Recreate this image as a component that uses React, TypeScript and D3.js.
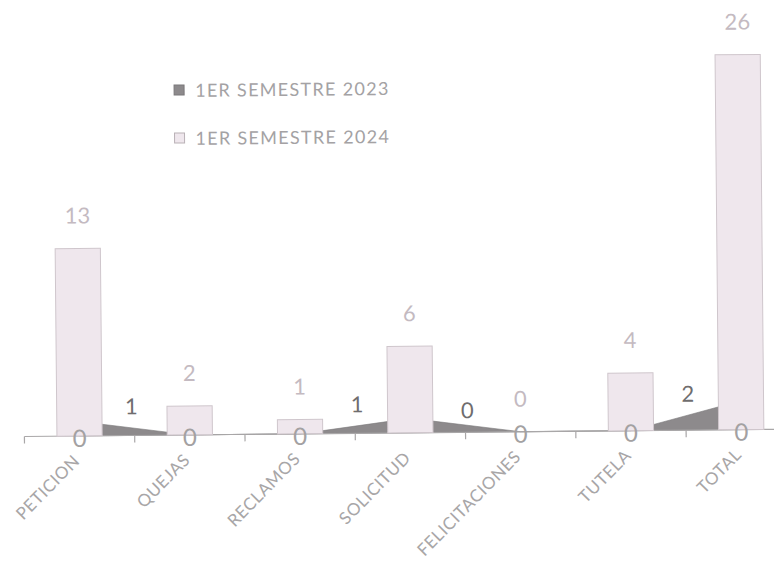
import { useEffect, useRef } from 'react'
import * as d3 from 'd3'

const categories = ['PETICION', 'QUEJAS', 'RECLAMOS', 'SOLICITUD', 'FELICITACIONES', 'TUTELA', 'TOTAL']
const values2023 = [1, 0, 0, 1, 0, 0, 2]
const values2024 = [13, 2, 1, 6, 0, 4, 26]
// where each 2023 label sits: -1 gap to the left, 1 gap to the right, 0 not shown in a gap
const labelGap2023 = [1, 0, 0, -1, -1, 0, -1]
const baseLabels = ['0', '0', '0', '', '0', '0', '0']
const seriesNames = ['1ER SEMESTRE 2023', '1ER SEMESTRE 2024']

export default function App() {
  const svgRef = useRef<SVGSVGElement>(null)
  const width = 774
  const height = 575

  useEffect(() => {
    if (!svgRef.current) return
    d3.select(svgRef.current).selectAll('*').remove()

    const svg = d3.select(svgRef.current)
      .attr('width', width)
      .attr('height', height)
      .style('font-family', 'Lato, "Open Sans", sans-serif')

    svg.append('rect').attr('width', width).attr('height', height).attr('fill', '#ffffff')

    // the scan is slightly tilted
    const g = svg.append('g').attr('transform', `rotate(-0.55, ${width / 2}, ${height / 2})`)

    const x = d3.scaleBand<string>()
      .domain(categories)
      .range([23, 795])
      .paddingInner(0.59)
      .paddingOuter(0.295)

    const y = d3.scaleLinear()
      .domain([0, 26])
      .range([433, 58])

    const step = x.step()
    const cx = (c: string) => (x(c) ?? 0) + x.bandwidth() / 2

    // 2023 area (behind the bars)
    const area = d3.area<number>()
      .x((_, i) => cx(categories[i]))
      .y0(y(0))
      .y1(d => y(d))

    g.append('path')
      .datum(values2023)
      .attr('d', area)
      .attr('fill', '#8d8a8c')
      .attr('stroke', '#7a787a')
      .attr('stroke-width', 0.6)

    // axis line
    g.append('line')
      .attr('x1', 23).attr('x2', 800)
      .attr('y1', y(0)).attr('y2', y(0))
      .attr('stroke', '#a9a7a8')
      .attr('stroke-width', 1.2)

    // tick marks at category boundaries
    const bounds = d3.range(categories.length + 1).map(i => 23 + i * step)
    g.selectAll('.tick')
      .data(bounds)
      .enter().append('line')
      .attr('x1', d => d).attr('x2', d => d)
      .attr('y1', y(0)).attr('y2', y(0) + 7)
      .attr('stroke', '#a9a7a8')
      .attr('stroke-width', 1.2)

    // 2024 bars
    g.selectAll('.bar')
      .data(values2024)
      .enter().append('rect')
      .attr('x', (_, i) => x(categories[i]) ?? 0)
      .attr('y', d => y(d))
      .attr('width', x.bandwidth())
      .attr('height', d => y(0) - y(d))
      .attr('fill', '#efe7ed')
      .attr('stroke', '#cfc6cc')
      .attr('stroke-width', 1)

    // 2024 value labels
    g.selectAll('.lbl24')
      .data(values2024)
      .enter().append('text')
      .attr('x', (_, i) => cx(categories[i]))
      .attr('y', d => y(d) - 25)
      .attr('text-anchor', 'middle')
      .style('font-size', '22px')
      .style('fill', '#c4bac1')
      .text(d => d)

    // 2023 value labels in the gaps
    const gapIdx = d3.range(values2023.length).filter(i => labelGap2023[i] !== 0)
    g.selectAll('.lbl23')
      .data(gapIdx)
      .enter().append('text')
      .attr('x', i => cx(categories[i]) + labelGap2023[i] * step / 2 + (labelGap2023[i] < 0 ? 2 : -3))
      .attr('y', i => y(values2023[i] / 2) - 14)
      .attr('text-anchor', 'middle')
      .style('font-size', '22px')
      .style('fill', '#6f6d6e')
      .text(i => values2023[i])

    // zero labels on the baseline
    g.selectAll('.lbl0')
      .data(baseLabels)
      .enter().append('text')
      .attr('x', (_, i) => cx(categories[i]))
      .attr('y', y(0) + 11)
      .attr('text-anchor', 'middle')
      .style('font-size', '24px')
      .style('fill', '#a3a1a2')
      .text(d => d)

    // category labels
    g.selectAll('.cat')
      .data(categories)
      .enter().append('text')
      .attr('transform', d => `translate(${cx(d) + 1}, ${y(0) + 26}) rotate(-45)`)
      .attr('text-anchor', 'end')
      .style('font-size', '17px')
      .style('letter-spacing', '0.6px')
      .style('fill', '#a8a6a7')
      .text(d => d)

    // legend
    const legend = g.append('g').attr('transform', 'translate(176, 83)')
    const items = legend.selectAll('.legend-item')
      .data(seriesNames)
      .enter().append('g')
      .attr('transform', (_, i) => `translate(0, ${i * 48})`)

    items.append('rect')
      .attr('width', 10)
      .attr('height', 10)
      .attr('fill', (_, i) => (i === 0 ? '#8d8a8c' : '#efe7ed'))
      .attr('stroke', (_, i) => (i === 0 ? '#7a787a' : '#b9b1b6'))

    items.append('text')
      .attr('x', 21)
      .attr('y', 12)
      .style('font-size', '18px')
      .style('letter-spacing', '1.3px')
      .style('fill', '#a4a2a4')
      .text(d => d)
  }, [])

  return <svg ref={svgRef} style={{ position: 'absolute', left: 0, top: 0, display: 'block' }} />
}
